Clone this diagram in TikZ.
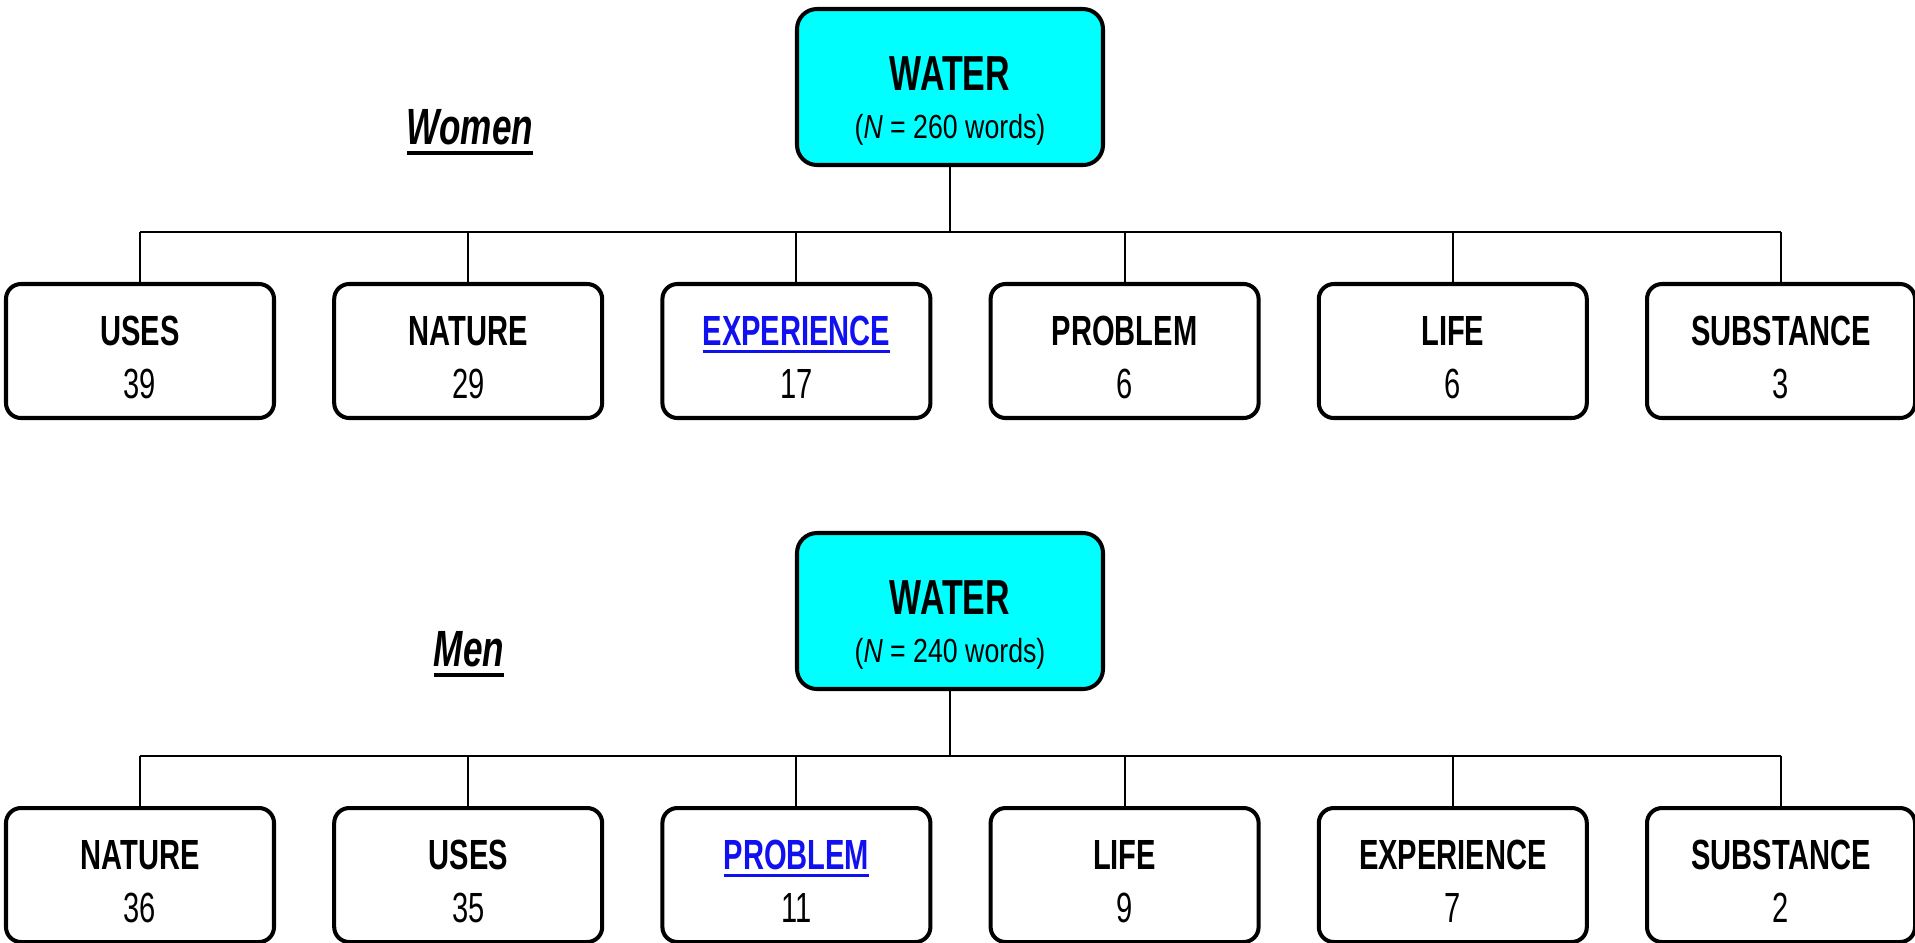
\documentclass[tikz,border=0pt]{standalone}
\usepackage{fontspec}
\setmainfont[FakeStretch=0.69]{Liberation Sans}
\newfontfamily\wordsFont[FakeStretch=0.8]{Liberation Sans}
\definecolor{waterCyan}{RGB}{0,255,255}
\definecolor{titleBlue}{RGB}{16,16,240}
%% Underlines of two weights.
\newlength{\underWidth}
\newcommand{\titleLine}[1]{\settowidth{\underWidth}{#1}\rlap{#1}\rule[-2.2pt]{\underWidth}{0.75pt}}
\newcommand{\groupLine}[1]{\settowidth{\underWidth}{#1}\rlap{#1}\rule[-3.2pt]{\underWidth}{1.2pt}}
\newcommand{\blueTitle}[1]{\textcolor{titleBlue}{\titleLine{#1}}}
\newcommand{\rootBox}[3]{%%
  %% The cyan root box.
  \node[rootStyle] (#1) at (\xroot,#2) {};
  \node[rootTitleStyle] (#1title) at (\xroot,{#2+3}) {WATER};
  \node[rootCountStyle] (#1count) at (\xroot,{#2+51}) {(\textit{N} = #3 words)};
  %% Down to the bus line.
  \draw[busStyle] (#1.south) -- (#1.south |- #1bus);
}
\newcommand{\childBox}[6]{%%
  %% A category box.
  \node[childStyle] (#1) at (#3,#4) {};
  \node[titleStyle] (#1title) at (#3,{#4-6}) {#5};
  \node[countStyle] (#1count) at (#3,{#4+47}) {#6};
  %% Up to the bus line.
  \draw[busStyle] (#1.north) -- (#1.north |- #2);
}

\begin{document}
\begin{tikzpicture}[%%
  x=0.1mm, y=-0.1mm,
  rootStyle/.style={draw,line width=1.15pt,rounded corners=2mm,fill=waterCyan,minimum width=30.6mm,minimum height=15.6mm,inner sep=0pt},
  childStyle/.style={draw,line width=1.15pt,rounded corners=1.5mm,fill=white,minimum width=26.8mm,minimum height=13.4mm,inner sep=0pt},
  rootTitleStyle/.style={anchor=base,inner sep=0pt,font=\bfseries\fontsize{14}{16}\selectfont},
  rootCountStyle/.style={anchor=base,inner sep=0pt,font=\wordsFont\fontsize{9.5}{11}\selectfont},
  titleStyle/.style={anchor=base,inner sep=0pt,font=\bfseries\fontsize{12}{14}\selectfont},
  countStyle/.style={anchor=base,inner sep=0pt,font=\fontsize{12}{14}\selectfont},
  groupStyle/.style={anchor=base,inner sep=0pt,font=\bfseries\itshape\fontsize{14.5}{17}\selectfont},
  busStyle/.style={-,line width=0.55pt}
]
\useasboundingbox (0,0) rectangle (1915,942);
%%
%%
\pgfmathsetmacro{\xroot}{950}
\pgfmathsetmacro{\xgap}{328.2}
\pgfmathsetmacro{\xa}{140}
\pgfmathsetmacro{\xb}{\xa+\xgap}
\pgfmathsetmacro{\xc}{\xa+2*\xgap}
\pgfmathsetmacro{\xd}{\xa+3*\xgap}
\pgfmathsetmacro{\xe}{\xa+4*\xgap}
\pgfmathsetmacro{\xf}{\xa+5*\xgap}
\pgfmathsetmacro{\shift}{524}
\pgfmathsetmacro{\yroot}{87}
\pgfmathsetmacro{\ybus}{232}
\pgfmathsetmacro{\ychild}{351}
\pgfmathsetmacro{\ylabel}{144}
\coordinate (womenRootbus) at (0,\ybus);
\coordinate (menRootbus) at (0,\ybus+\shift);
%%
%%
%% Women.
\node[groupStyle] (women) at (470,\ylabel) {\groupLine{Women}};
\rootBox{womenRoot}{\yroot}{260}
\childBox{womenUses}{womenRootbus}{\xa}{\ychild}{USES}{39}
\childBox{womenNature}{womenRootbus}{\xb}{\ychild}{NATURE}{29}
\childBox{womenExperience}{womenRootbus}{\xc}{\ychild}{\blueTitle{EXPERIENCE}}{17}
\childBox{womenProblem}{womenRootbus}{\xd}{\ychild}{PROBLEM}{6}
\childBox{womenLife}{womenRootbus}{\xe}{\ychild}{LIFE}{6}
\childBox{womenSubstance}{womenRootbus}{\xf}{\ychild}{SUBSTANCE}{3}
\draw[busStyle] (womenUses.north |- womenRootbus) -- (womenSubstance.north |- womenRootbus);
%% Men.
\node[groupStyle] (men) at (469,\ylabel+\shift-2) {\groupLine{Men}};
\rootBox{menRoot}{\yroot+\shift}{240}
\childBox{menNature}{menRootbus}{\xa}{\ychild+\shift}{NATURE}{36}
\childBox{menUses}{menRootbus}{\xb}{\ychild+\shift}{USES}{35}
\childBox{menProblem}{menRootbus}{\xc}{\ychild+\shift}{\blueTitle{PROBLEM}}{11}
\childBox{menLife}{menRootbus}{\xd}{\ychild+\shift}{LIFE}{9}
\childBox{menExperience}{menRootbus}{\xe}{\ychild+\shift}{EXPERIENCE}{7}
\childBox{menSubstance}{menRootbus}{\xf}{\ychild+\shift}{SUBSTANCE}{2}
\draw[busStyle] (menNature.north |- menRootbus) -- (menSubstance.north |- menRootbus);
\end{tikzpicture}
\end{document}
